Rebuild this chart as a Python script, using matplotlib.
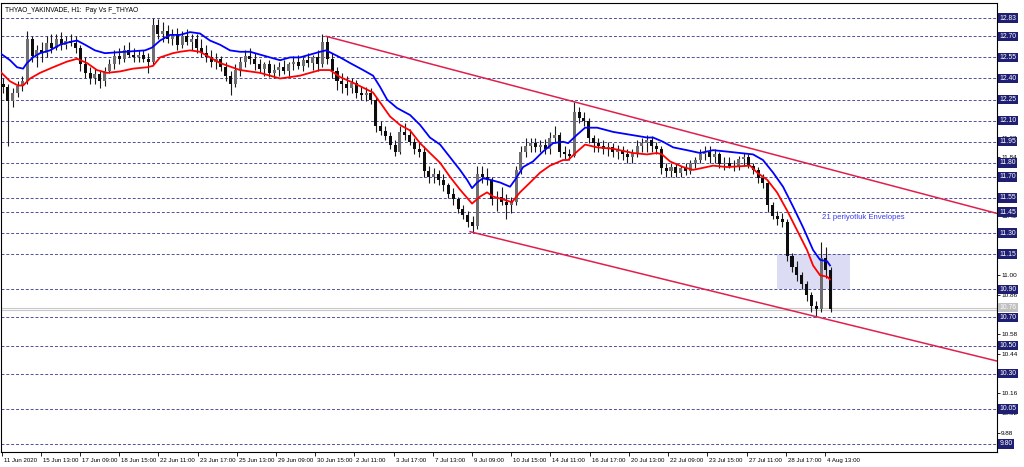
import numpy as np
import matplotlib.pyplot as plt
import matplotlib.transforms as mtransforms
from matplotlib.patches import Rectangle

opens = [12.36, 12.34, 12.24, 12.30, 12.35, 12.38, 12.68, 12.56, 12.60, 12.58,
         12.65, 12.62, 12.68, 12.64, 12.67, 12.65, 12.62, 12.50, 12.44, 12.40,
         12.43, 12.38, 12.45, 12.50, 12.56, 12.54, 12.60, 12.57, 12.55, 12.57,
         12.54, 12.52, 12.78, 12.72, 12.74, 12.68, 12.72, 12.64, 12.70, 12.66,
         12.68, 12.62, 12.58, 12.55, 12.52, 12.54, 12.48, 12.42, 12.36, 12.46,
         12.52, 12.56, 12.54, 12.50, 12.47, 12.50, 12.44, 12.46, 12.48, 12.45,
         12.50, 12.52, 12.49, 12.53, 12.51, 12.55, 12.50, 12.66, 12.54, 12.45,
         12.38, 12.36, 12.33, 12.37, 12.30, 12.28, 12.30, 12.25, 12.06, 12.03,
         11.99, 11.93, 11.88, 12.02, 12.00, 11.95, 11.90, 11.88, 11.74, 11.70,
         11.72, 11.68, 11.64, 11.58, 11.54, 11.47, 11.43, 11.38, 11.35, 11.72,
         11.70, 11.68, 11.54, 11.56, 11.52, 11.50, 11.52, 11.75, 11.88, 11.92,
         11.94, 11.91, 11.93, 11.90, 11.98, 12.00, 11.88, 11.86, 11.85, 12.16,
         12.12, 12.10, 11.98, 11.94, 11.92, 11.90, 11.91, 11.88, 11.89, 11.86,
         11.84, 11.87, 11.92, 11.94, 11.96, 11.92, 11.90, 11.76, 11.74, 11.77,
         11.73, 11.76, 11.74, 11.80, 11.82, 11.86, 11.88, 11.84, 11.86, 11.79,
         11.80, 11.78, 11.77, 11.83, 11.84, 11.78, 11.75, 11.69, 11.66, 11.50,
         11.42, 11.40, 11.38, 11.14, 11.06, 11.00, 10.94, 10.86, 10.78, 10.76,
         11.12, 11.04]
highs = [12.40, 12.36, 12.33, 12.38, 12.42, 12.74, 12.70, 12.64, 12.66, 12.70,
         12.72, 12.72, 12.73, 12.70, 12.72, 12.70, 12.64, 12.55, 12.48, 12.47,
         12.46, 12.48, 12.54, 12.60, 12.62, 12.64, 12.66, 12.62, 12.60, 12.60,
         12.58, 12.83, 12.82, 12.80, 12.78, 12.75, 12.76, 12.74, 12.75, 12.72,
         12.72, 12.68, 12.64, 12.60, 12.58, 12.56, 12.52, 12.45, 12.50, 12.55,
         12.60, 12.62, 12.58, 12.54, 12.52, 12.53, 12.50, 12.52, 12.53, 12.52,
         12.56, 12.57, 12.55, 12.58, 12.57, 12.60, 12.72, 12.70, 12.58, 12.48,
         12.44, 12.42, 12.40, 12.39, 12.35, 12.34, 12.33, 12.27, 12.10, 12.06,
         12.02, 11.96, 12.06, 12.08, 12.04, 11.98, 11.95, 11.92, 11.78, 11.76,
         11.75, 11.72, 11.66, 11.62, 11.56, 11.50, 11.46, 11.42, 11.78, 11.78,
         11.76, 11.70, 11.60, 11.63, 11.58, 11.56, 11.78, 11.92, 11.98, 11.98,
         11.98, 11.96, 11.97, 12.02, 12.06, 12.02, 11.92, 11.90, 12.23, 12.20,
         12.16, 12.12, 12.00, 11.98, 11.96, 11.95, 11.94, 11.93, 11.92, 11.90,
         11.90, 11.96, 11.98, 12.00, 11.99, 11.95, 11.92, 11.80, 11.80, 11.80,
         11.78, 11.80, 11.82, 11.84, 11.90, 11.92, 11.92, 11.90, 11.88, 11.84,
         11.84, 11.82, 11.85, 11.87, 11.86, 11.80, 11.77, 11.72, 11.68, 11.52,
         11.46, 11.44, 11.40, 11.16, 11.10, 11.02, 10.96, 10.88, 10.82, 11.24,
         11.20, 11.06]
lows = [12.30, 11.92, 12.20, 12.27, 12.31, 12.36, 12.52, 12.48, 12.52, 12.55,
        12.58, 12.60, 12.60, 12.61, 12.63, 12.58, 12.45, 12.40, 12.36, 12.36,
        12.33, 12.35, 12.44, 12.47, 12.50, 12.52, 12.55, 12.52, 12.52, 12.52,
        12.44, 12.50, 12.68, 12.66, 12.65, 12.64, 12.60, 12.62, 12.64, 12.60,
        12.58, 12.55, 12.52, 12.48, 12.47, 12.45, 12.38, 12.28, 12.34, 12.42,
        12.48, 12.50, 12.46, 12.44, 12.42, 12.41, 12.40, 12.42, 12.43, 12.42,
        12.46, 12.47, 12.45, 12.48, 12.46, 12.45, 12.48, 12.50, 12.40, 12.32,
        12.30, 12.28, 12.30, 12.26, 12.25, 12.24, 12.22, 12.02, 12.00, 11.96,
        11.90, 11.85, 11.86, 11.96, 11.93, 11.86, 11.84, 11.70, 11.66, 11.66,
        11.64, 11.60, 11.55, 11.50, 11.44, 11.40, 11.34, 11.31, 11.33, 11.66,
        11.64, 11.50, 11.46, 11.50, 11.40, 11.44, 11.50, 11.72, 11.84, 11.88,
        11.88, 11.88, 11.86, 11.86, 11.94, 11.84, 11.83, 11.82, 11.84, 12.08,
        12.06, 11.94, 11.88, 11.88, 11.86, 11.85, 11.84, 11.83, 11.82, 11.80,
        11.80, 11.84, 11.88, 11.88, 11.88, 11.86, 11.72, 11.70, 11.70, 11.70,
        11.70, 11.71, 11.72, 11.76, 11.80, 11.82, 11.80, 11.80, 11.76, 11.75,
        11.76, 11.74, 11.75, 11.78, 11.76, 11.72, 11.66, 11.62, 11.45, 11.40,
        11.36, 11.34, 11.10, 11.02, 10.96, 10.90, 10.82, 10.74, 10.70, 10.74,
        10.98, 10.74]
closes = [12.34, 12.24, 12.30, 12.35, 12.38, 12.68, 12.56, 12.60, 12.58, 12.65,
          12.62, 12.68, 12.64, 12.67, 12.65, 12.62, 12.50, 12.44, 12.40, 12.43,
          12.38, 12.45, 12.50, 12.56, 12.54, 12.60, 12.57, 12.55, 12.57, 12.54,
          12.52, 12.78, 12.72, 12.74, 12.68, 12.72, 12.64, 12.70, 12.66, 12.68,
          12.62, 12.58, 12.55, 12.52, 12.54, 12.48, 12.42, 12.36, 12.46, 12.52,
          12.56, 12.54, 12.50, 12.47, 12.50, 12.44, 12.46, 12.48, 12.45, 12.50,
          12.52, 12.49, 12.53, 12.51, 12.55, 12.50, 12.66, 12.54, 12.45, 12.38,
          12.36, 12.33, 12.37, 12.30, 12.28, 12.30, 12.25, 12.06, 12.03, 11.99,
          11.93, 11.88, 12.02, 12.00, 11.95, 11.90, 11.88, 11.74, 11.70, 11.72,
          11.68, 11.64, 11.58, 11.54, 11.47, 11.43, 11.38, 11.35, 11.72, 11.70,
          11.68, 11.54, 11.56, 11.52, 11.50, 11.52, 11.75, 11.88, 11.92, 11.94,
          11.91, 11.93, 11.90, 11.98, 12.00, 11.88, 11.86, 11.85, 12.16, 12.12,
          12.10, 11.98, 11.94, 11.92, 11.90, 11.91, 11.88, 11.89, 11.86, 11.84,
          11.87, 11.92, 11.94, 11.96, 11.92, 11.90, 11.76, 11.74, 11.77, 11.73,
          11.76, 11.74, 11.80, 11.82, 11.86, 11.88, 11.84, 11.86, 11.79, 11.80,
          11.78, 11.77, 11.83, 11.84, 11.78, 11.75, 11.69, 11.66, 11.50, 11.42,
          11.40, 11.38, 11.14, 11.06, 11.00, 10.94, 10.86, 10.78, 10.76, 11.12,
          11.04, 10.76]

# envelope bands (21 period), position in hourly bars
upper_bar = [-1.2, 2.9, 5.8, 8.3, 9.9, 12.4, 15.3, 19.4, 23.6, 27.7, 30.6, 33.9, 38.0, 42.1,
             50.4, 58.7, 61.6, 64.9, 69.0, 73.1, 77.3, 81.4, 85.5, 89.7, 93.8, 97.9, 102.1,
             106.2, 110.3, 114.5, 118.6, 122.7, 126.9, 131.0, 133.5, 139.3, 143.4, 148.8,
             152.9, 155.8, 158.7, 162.8, 168.2, 172.3, 176.4, 180.6, 184.7, 188.8, 191.7,
             193.8, 195.9, 198.3, 201.2, 205.4, 209.5, 211.6, 214.9, 219.0, 223.1, 227.3,
             231.4, 233.5, 237.2, 240.5, 245.5, 252.1, 259.1, 266.1, 268.6, 272.7, 276.9,
             282.6, 288.0, 293.4, 299.2, 304.5, 309.9, 314.0, 318.2, 322.3, 326.4, 330.6,
             334.7, 337.6, 340.5, 341.7]
upper_val = [12.58, 12.53, 12.48, 12.47, 12.51, 12.55, 12.58, 12.60, 12.64, 12.66, 12.67,
             12.64, 12.60, 12.58, 12.59, 12.60, 12.62, 12.67, 12.71, 12.71, 12.73, 12.72,
             12.67, 12.64, 12.60, 12.59, 12.59, 12.57, 12.55, 12.53, 12.55, 12.55, 12.57,
             12.59, 12.60, 12.55, 12.51, 12.46, 12.42, 12.34, 12.25, 12.19, 12.14, 12.07,
             11.98, 11.93, 11.84, 11.75, 11.68, 11.62, 11.66, 11.69, 11.68, 11.66, 11.63,
             11.68, 11.77, 11.81, 11.88, 11.94, 11.95, 11.94, 12.00, 12.05, 12.05, 12.02,
             12.00, 11.98, 11.98, 11.95, 11.91, 11.89, 11.87, 11.89, 11.88, 11.87, 11.86,
             11.82, 11.73, 11.63, 11.49, 11.34, 11.18, 11.11, 11.10, 11.07]
lower_bar = [-1.2, 2.9, 6.2, 8.3, 11.2, 15.3, 20.7, 26.4, 30.6, 34.7, 38.8, 43.0, 48.3, 53.7,
             59.5, 62.0, 64.9, 70.2, 73.1, 77.3, 81.4, 85.5, 89.7, 97.9, 106.2, 114.5, 122.7,
             131.0, 135.1, 139.3, 144.6, 152.9, 155.8, 159.9, 164.0, 168.2, 172.3, 176.4,
             180.6, 184.7, 188.8, 193.8, 197.1, 200.0, 202.5, 206.6, 210.3, 213.6, 217.8,
             221.9, 226.0, 231.4, 233.5, 237.2, 240.5, 245.5, 252.1, 260.3, 266.1, 270.2,
             272.3, 275.6, 281.0, 285.1, 288.0, 293.4, 299.2, 308.7, 311.6, 315.7, 319.8,
             324.0, 328.1, 332.2, 334.7, 337.6, 340.5, 341.7]
lower_val = [12.45, 12.38, 12.35, 12.35, 12.40, 12.44, 12.48, 12.52, 12.54, 12.51, 12.46,
             12.44, 12.45, 12.47, 12.48, 12.49, 12.55, 12.58, 12.59, 12.60, 12.59, 12.55,
             12.51, 12.46, 12.44, 12.40, 12.42, 12.46, 12.46, 12.41, 12.37, 12.30, 12.23,
             12.13, 12.07, 12.03, 11.94, 11.87, 11.80, 11.70, 11.61, 11.51, 11.56, 11.59,
             11.56, 11.54, 11.52, 11.59, 11.66, 11.73, 11.78, 11.82, 11.82, 11.88, 11.93,
             11.91, 11.90, 11.87, 11.86, 11.87, 11.86, 11.81, 11.77, 11.75, 11.76, 11.78,
             11.77, 11.78, 11.73, 11.68, 11.59, 11.46, 11.32, 11.18, 11.07, 11.00, 10.99,
             10.97]

# drawn objects
levels = [12.83, 12.70, 12.55, 12.40, 12.25, 12.10, 11.95, 11.80, 11.70, 11.55,
          11.45, 11.30, 11.15, 10.90, 10.70, 10.50, 10.30, 10.05, 9.80]
scale_ticks = [9.88, 10.02, 10.16, 10.44, 10.58, 10.86, 11.00, 11.42, 11.84, 11.98]
trend_top = ([133.5, 410.7], [12.70, 11.44])
trend_bottom = ([193.0, 410.7], [11.31, 10.39])
box_bars = [319.8, 350.0]
box_prices = [10.90, 11.15]
bid_prices = [10.77, 10.75]
time_labels = ["11 Jun 2020", "15 Jun 13:00", "17 Jun 09:00", "18 Jun 15:00", "22 Jun 11:00",
               "23 Jun 17:00", "25 Jun 13:00", "29 Jun 09:00", "30 Jun 15:00", "2 Jul 11:00",
               "3 Jul 17:00", "7 Jul 13:00", "9 Jul 09:00", "10 Jul 15:00", "14 Jul 11:00",
               "16 Jul 17:00", "20 Jul 13:00", "22 Jul 09:00", "23 Jul 15:00", "27 Jul 11:00",
               "28 Jul 17:00", "4 Aug 13:00"]

plt.rcParams['font.family'] = ['Liberation Sans', 'DejaVu Sans']

fig = plt.figure(figsize=(10.24, 4.67), dpi=100)
ax = fig.add_axes([1 / 1024, 15 / 467, 996 / 1024, 449 / 467])
ax.set_xlim(-0.83, 410.7)
ax.set_ylim(9.743, 12.937)

for lv in levels:
    ax.axhline(lv, color='#50509a', lw=0.7, ls=(0, (3, 2)), zorder=1)
for bp in bid_prices:
    ax.axhline(bp, color='#c8c8c8', lw=0.8, zorder=1)

ax.add_patch(Rectangle((box_bars[0], box_prices[0]), box_bars[1] - box_bars[0],
                       box_prices[1] - box_prices[0], fc='#dcdcf4', ec='none', zorder=0.5))

ax.plot(trend_top[0], trend_top[1], color='#e0204c', lw=1.1, zorder=4)
ax.plot(trend_bottom[0], trend_bottom[1], color='#e0204c', lw=1.1, zorder=4)

o = np.array(opens)
h = np.array(highs)
l = np.array(lows)
c = np.array(closes)
bars = np.arange(len(c)) * 2.0
up = c >= o
ax.vlines(bars, l, h, color='#1a1a1a', lw=0.8, zorder=2)
body = np.maximum(np.abs(c - o), 0.008)
ax.bar(bars[up], body[up], bottom=o[up], width=1.25, color='#6e6e6e', lw=0, zorder=2.5)
ax.bar(bars[~up], body[~up], bottom=c[~up], width=1.25, color='#0d0d0d', lw=0, zorder=2.5)

ax.plot(upper_bar, upper_val, color='#0000ff', lw=1.3, zorder=3)
ax.plot(lower_bar, lower_val, color='#ff0000', lw=1.3, zorder=3)

ax.text(0.004, 0.992, "THYAO_YAKINVADE, H1:  Pay Vs F_THYAO", transform=ax.transAxes,
        ha='left', va='top', fontsize=4.8, color='black')
ax.text(338.4, 11.41, "21 periyotluk Envelopes", ha='left', va='center',
        fontsize=5.6, color='#3c3cf0')

# right price scale
ax.yaxis.tick_right()
ax.set_yticks(scale_ticks)
ax.set_yticklabels([f"{t:.2f}" for t in scale_ticks])
ax.tick_params(axis='y', labelsize=4.6, length=2, pad=1, width=0.6)
trans = mtransforms.blended_transform_factory(ax.transAxes, ax.transData)
for lv in levels:
    ax.text(1.0025, lv, f"{lv:.2f}", transform=trans, ha='left', va='center', fontsize=4.9,
            color='white', zorder=10, clip_on=False,
            bbox=dict(boxstyle='square,pad=0.18', fc='#1e1e72', ec='none'))
ax.text(1.0025, closes[-1] + 0.01, f"{closes[-1]:.2f}", transform=trans, ha='left',
        va='center', fontsize=4.9, color='white', zorder=9, clip_on=False,
        bbox=dict(boxstyle='square,pad=0.18', fc='#c0c0c0', ec='none'))

# time scale
tick_pos = [-0.6 + 16.2 * j for j in range(len(time_labels))]
ax.set_xticks(tick_pos)
ax.set_xticklabels(time_labels, ha='left')
ax.tick_params(axis='x', labelsize=4.4, length=3, pad=1.5, width=0.6)
shift = mtransforms.ScaledTranslation(2 / 100, 0, fig.dpi_scale_trans)
for lab in ax.get_xticklabels():
    lab.set_transform(lab.get_transform() + shift)

for sp in ax.spines.values():
    sp.set_linewidth(0.8)
    sp.set_color('black')

fig.savefig('out.png', dpi=100)
